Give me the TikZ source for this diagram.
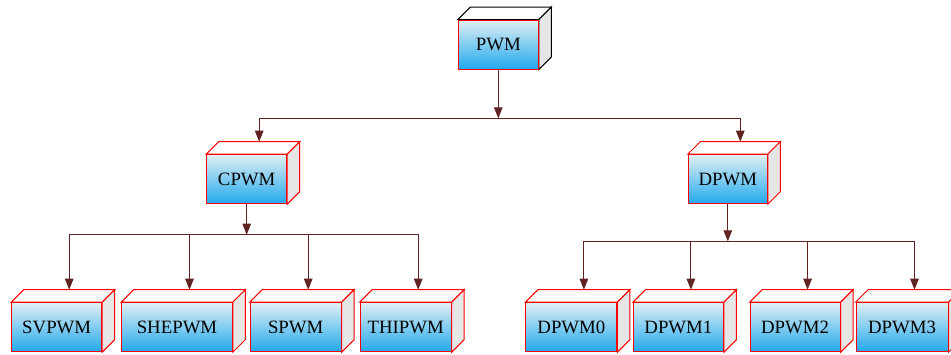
\documentclass[tikz,border=0pt]{standalone}
\usepackage{fontspec}
\setmainfont{Liberation Serif}
\usetikzlibrary{arrows.meta}
\definecolor{edgered}{RGB}{96,36,36}
\definecolor{lightface}{RGB}{224,239,245}
\definecolor{blueface}{RGB}{33,169,236}
\definecolor{sidegray}{RGB}{230,230,230}
\tikzset{
  box/.style   = { rectangle, minimum height=49pt, inner sep=0pt },
  front/.style = { box, draw=red, line width=1pt, top color=lightface,
                   bottom color=blueface, font=\fontsize{18.8}{22}\selectfont },
  cube/.style  = { front,
    append after command = {
      \pgfextra{
        \pgfinterruptpath
        \filldraw [draw=#1, fill=white, line width=1pt]
          (\tikzlastnode.north west) -- ++(12.5,-12.5)
          -- ([shift={(12.5,-12.5)}]\tikzlastnode.north east)
          -- (\tikzlastnode.north east) -- cycle;
        \filldraw [draw=#1, fill=sidegray, line width=1pt]
          (\tikzlastnode.north east) -- ++(12.5,-12.5)
          -- ([shift={(12.5,-12.5)}]\tikzlastnode.south east)
          -- (\tikzlastnode.south east) -- cycle;
        \coordinate (\tikzlastnode-top) at ([shift={(12.5,-12.5)}]\tikzlastnode.north);
        \endpgfinterruptpath
      }
    }
  },
  cube/.default = red,
  link/.style  = { ->, draw=edgered, line width=1pt },
}
\begin{document}
\begin{tikzpicture}[
  x=1pt,y=-1pt,
  >={Triangle[length=11pt,width=8.5pt]}
]
  \useasboundingbox (0,0) rectangle (951,354);

  \node (pwm)    [cube=black,minimum width=80pt]  at (498.3,44.5)  {PWM};
  \node (cpwm)   [cube,minimum width=80pt]        at (246.7,179.2) {CPWM};
  \node (dpwm)   [cube,minimum width=79pt]        at (727.8,179.2) {DPWM};

  \node (svpwm)  [cube,minimum width=90pt]        at (56.7,327.2)  {SVPWM};
  \node (shepwm) [cube,minimum width=110.6pt]     at (177,327.2)   {SHEPWM};
  \node (spwm)   [cube,minimum width=91pt]        at (295.7,327.2) {SPWM};
  \node (thipwm) [cube,minimum width=91pt]        at (405.7,327.2) {THIPWM};
  \node (dpwm0)  [cube,minimum width=91pt]        at (571.4,327.2) {DPWM0};
  \node (dpwm1)  [cube,minimum width=90pt]        at (678.4,327.2) {DPWM1};
  \node (dpwm2)  [cube,minimum width=90pt]        at (795.1,327.2) {DPWM2};
  \node (dpwm3)  [cube,minimum width=92pt]        at (902,327.2)   {DPWM3};

  \coordinate (split)  at (498.3,118.3);
  \coordinate (csplit) at (246.7,234.7);
  \coordinate (dsplit) at (727.8,241.3);

  \draw [link] (pwm)    -- (split);
  \draw [link] (split)  -| (cpwm-top);
  \draw [link] (split)  -| (dpwm-top);

  \draw [link] (cpwm)   -- (csplit);
  \draw [link] (csplit) -| (svpwm-top);
  \draw [link] (csplit) -| (shepwm-top);
  \draw [link] (csplit) -| (spwm-top);
  \draw [link] (csplit) -| (thipwm-top);

  \draw [link] (dpwm)   -- (dsplit);
  \draw [link] (dsplit) -| (dpwm0-top);
  \draw [link] (dsplit) -| (dpwm1-top);
  \draw [link] (dsplit) -| (dpwm2-top);
  \draw [link] (dsplit) -| (dpwm3-top);

\end{tikzpicture}
\end{document}
